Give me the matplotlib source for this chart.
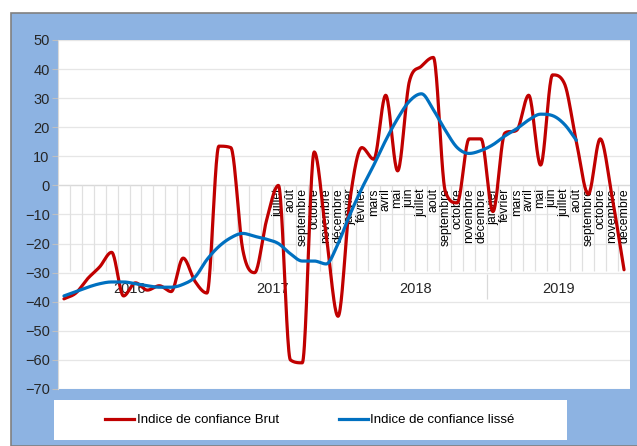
import matplotlib
matplotlib.use("Agg")
import matplotlib.pyplot as plt
from matplotlib.patches import Rectangle
from matplotlib.lines import Line2D
import numpy as np

plt.rcParams['font.family'] = ['Liberation Sans Narrow', 'Liberation Sans', 'DejaVu Sans']

years = ['2016', '2017', '2018', '2019']
mois = ['janvier', 'février', 'mars', 'avril', 'mai', 'juin', 'juillet',
        'août', 'septembre', 'octobre', 'novembre', 'décembre']
# month labels only shown from juillet 2017 on
first_label = 18

brut = [-39, -37, -32, -28, -23, -38, -33.5, -36, -34.5, -36.5, -25, -33,
        -37, 13.5, 13, -22, -30, -12, 0, -60, -61, 11.5, -17, -45,
        -5, 13, 9, 31, 5, 36, 41, 44, -2, -6, 16, 16,
        -9, 18, 19, 31, 7, 38, 35, 15, -3, 16, -4, -29]

lisse = [-38, -36.5, -35, -33.8, -33.2, -33.2, -33.8, -34.5, -35, -35, -34, -31.5,
         -25.5, -21, -18, -16.5, -17.5, -18.5, -20, -23.5, -26, -26, -27, -20,
         -10, -1, 7, 15.5, 23, 29, 31.5, 26, 19, 13, 11, 12,
         14, 17, 19.5, 22.5, 24.5, 24, 21, 15.5]

red = '#C00000'
blue = '#0070C0'


def smooth(vals, n=24):
    # cubic Bezier through the points, Catmull-Rom tangents limited to avoid overshoot
    y = np.asarray(vals, float)
    x = np.arange(len(y), dtype=float)
    d = np.diff(y)
    m = np.zeros_like(y)
    m[1:-1] = (y[2:] - y[:-2]) / 2
    m[0] = d[0]
    m[-1] = d[-1]
    for k in range(1, len(y) - 1):
        if d[k - 1] * d[k] <= 0:
            m[k] = 0.0
        else:
            lim = 3 * min(abs(d[k - 1]), abs(d[k]))
            m[k] = np.sign(m[k]) * min(abs(m[k]), lim)
    xs, ys = [], []
    t = np.linspace(0, 1, n)
    for i in range(len(y) - 1):
        p0, p3 = y[i], y[i + 1]
        p1, p2 = p0 + m[i] / 3, p3 - m[i + 1] / 3
        yy = (1 - t) ** 3 * p0 + 3 * (1 - t) ** 2 * t * p1 + 3 * (1 - t) * t ** 2 * p2 + t ** 3 * p3
        xs.append(x[i] + t)
        ys.append(yy)
    return np.concatenate(xs), np.concatenate(ys)


fig = plt.figure(figsize=(6.37, 4.46), dpi=100)
fig.patch.set_facecolor('white')
fig.patches.append(Rectangle((11 / 637, 0), 1, 433 / 446, transform=fig.transFigure,
                             facecolor='#8DB3E2', edgecolor='#808080', linewidth=1.2, zorder=-2))
fig.patches.append(Rectangle((54 / 637, 6 / 446), 513 / 637, 40 / 446, transform=fig.transFigure,
                             facecolor='white', edgecolor='none', zorder=-1))

ax = fig.add_axes([58 / 637, 57 / 446, 572 / 637, 349 / 446])
ax.set_facecolor('white')
ax.set_xlim(-0.5, 47.5)
ax.set_ylim(-70, 50)
ax.set_yticks(np.arange(-70, 51, 10))
ax.grid(axis='y', color='#E6E6E6', linewidth=0.9)
ax.set_axisbelow(True)
ax.set_xticks([])
for s in ['top', 'right', 'bottom']:
    ax.spines[s].set_visible(False)
ax.spines['left'].set_color('#D9D9D9')
ax.tick_params(axis='y', length=4, color='#BFBFBF', labelsize=10.5, labelcolor='#262626', pad=2)

# category axis drawn at y = 0
ax.axhline(0, color='#D9D9D9', linewidth=0.9, zorder=1)
ax.vlines(np.arange(0.5, 47, 1), -29.5, 0, color='#E0E0E0', linewidth=0.9, zorder=1)
ax.vlines(35.5, -30.5, -39, color='#D9D9D9', linewidth=0.9, zorder=1)

for i in range(48):
    if i >= first_label:
        ax.annotate(mois[i % 12], (i, 0), xytext=(0, -2), textcoords='offset points',
                    rotation=90, ha='center', va='top', fontsize=8.8, color='black', zorder=2)
for k, yr in enumerate(years):
    ax.text(12 * k + 5.5, -35.5, yr, ha='center', va='center', fontsize=10.5, color='#262626', zorder=2)

xr, yr_ = smooth(brut)
ax.plot(xr, yr_, color=red, linewidth=2.3, solid_capstyle='round', zorder=3)
xb, yb = smooth(lisse)
ax.plot(xb, yb, color=blue, linewidth=2.3, solid_capstyle='round', zorder=4)

handles = [Line2D([], [], color=red, linewidth=2.3), Line2D([], [], color=blue, linewidth=2.3)]
fig.legend(handles, ['Indice de confiance Brut', 'Indice de confiance lissé'],
           loc='center', bbox_to_anchor=(310 / 637, 26 / 446), ncol=2, frameon=False,
           fontsize=9.5, handlelength=2.2, handletextpad=0.2, columnspacing=4.5)

fig.savefig('out.png', dpi=100)
